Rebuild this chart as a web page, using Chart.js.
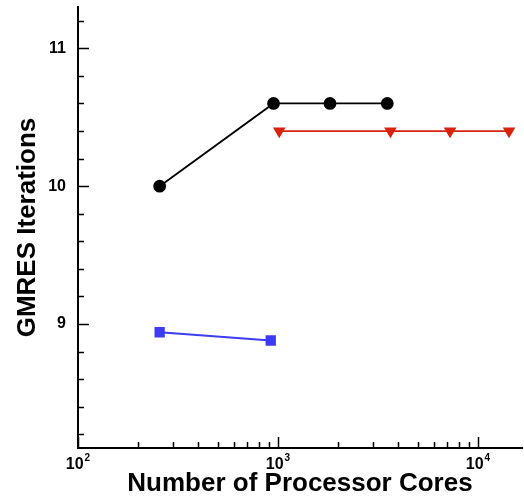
<!DOCTYPE html>
<html>
<head>
<meta charset="utf-8">
<script src="https://cdn.jsdelivr.net/npm/chart.js@4/dist/chart.umd.min.js"></script>
<style>
  html, body { margin: 0; padding: 0; background: #fff; }
  #wrap { width: 524px; height: 498px; }
</style>
</head>
<body>
<div id="wrap"><canvas id="gmres"></canvas></div>
<script>
// values
var blackCores = [256, 950, 1820, 3520];
var blackIters = [10.0, 10.6, 10.6, 10.6];
var redCores = [1015, 3650, 7250, 14300];
var redIters = [10.4, 10.4, 10.4, 10.4];
var blueCores = [256, 920];
var blueIters = [8.94, 8.88];

// axis ticks
var xDecades = [100, 1000, 10000];
var xExponents = [2, 3, 4];
var yTickValues = [8.2, 8.4, 8.6, 8.8, 9, 9.2, 9.4, 9.6, 9.8, 10, 10.2, 10.4, 10.6, 10.8, 11, 11.2];
var yMajor = [9, 10, 11];

function pts(xs, ys) {
    var out = [];
    for (var i = 0; i < xs.length; i += 1) {
        out.push({x: xs[i], y: ys[i]});
    }
    return out;
}

function isMajorY(v) {
    for (var i = 0; i < yMajor.length; i += 1) {
        if (Math.abs(v - yMajor[i]) < 1e-6) return true;
    }
    return false;
}

// inward tick marks + 10^n labels like the original plot
var axisExtras = {
    id: "axisExtras",
    afterDraw: function (chart) {
        var ctx = chart.ctx;
        var xs = chart.scales.x;
        var ys = chart.scales.y;
        ctx.save();
        ctx.strokeStyle = "#000";
        ctx.lineWidth = 1.5;
        ctx.beginPath();
        for (var d = 0; d < xDecades.length; d += 1) {
            for (var k = 1; k <= 9; k += 1) {
                var v = k * xDecades[d];
                if (v < xs.min || v > xs.max) continue;
                var px = Math.round(xs.getPixelForValue(v)) + 0.5;
                var len = k === 1 ? 11 : 6;
                ctx.moveTo(px, ys.bottom);
                ctx.lineTo(px, ys.bottom - len);
            }
        }
        ys.ticks.forEach(function (t) {
            var py = Math.round(ys.getPixelForValue(t.value)) + 0.5;
            var len = isMajorY(t.value) ? 11 : 6;
            ctx.moveTo(xs.left, py);
            ctx.lineTo(xs.left + len, py);
        });
        ctx.stroke();

        ctx.fillStyle = "#000";
        ctx.textBaseline = "alphabetic";
        ctx.textAlign = "left";
        for (var i = 0; i < xDecades.length; i += 1) {
            var cx = xs.getPixelForValue(xDecades[i]);
            ctx.font = "bold 16px 'Liberation Sans'";
            var wBase = ctx.measureText("10").width;
            ctx.font = "bold 10px 'Liberation Sans'";
            var wSup = ctx.measureText(String(xExponents[i])).width;
            var x0 = cx - (wBase + wSup + 1) / 2;
            ctx.font = "bold 16px 'Liberation Sans'";
            ctx.fillText("10", x0, ys.bottom + 21);
            ctx.font = "bold 10px 'Liberation Sans'";
            ctx.fillText(String(xExponents[i]), x0 + wBase + 1, ys.bottom + 13);
        }
        ctx.restore();
    }
};

var ctx = document.getElementById("gmres");

var myChart = new Chart(ctx, {
    type: "line",
    data: {
        datasets: [
            {
                label: "black",
                data: pts(blackCores, blackIters),
                borderColor: "#000000",
                backgroundColor: "#000000",
                borderWidth: 1.8,
                pointStyle: "circle",
                pointRadius: 5.5
            },
            {
                label: "red",
                data: pts(redCores, redIters),
                borderColor: "#d8230f",
                backgroundColor: "#d8230f",
                borderWidth: 1.8,
                pointStyle: "triangle",
                rotation: 180,
                pointRadius: 5.5
            },
            {
                label: "blue",
                data: pts(blueCores, blueIters),
                borderColor: "#3c3cf5",
                backgroundColor: "#3c3cf5",
                borderWidth: 1.8,
                pointStyle: "rect",
                pointRadius: 6
            }
        ]
    },
    options: {
        responsive: true,
        maintainAspectRatio: false,
        animation: false,
        layout: {autoPadding: false, padding: {top: 7, right: 2, left: 0, bottom: 0}},
        plugins: {legend: {display: false}, tooltip: {enabled: false}},
        elements: {line: {tension: 0}, point: {borderWidth: 0}},
        scales: {
            x: {
                type: "logarithmic",
                min: 100,
                max: 16600,
                grid: {display: false, drawTicks: false},
                border: {display: true, color: "#000", width: 2},
                ticks: {display: false},
                title: {
                    display: true,
                    text: "Number of Processor Cores",
                    color: "#000",
                    padding: {top: 0, bottom: 0},
                    font: {family: "Liberation Sans", size: 26, weight: "bold", lineHeight: 1.1}
                },
                afterFit: function (scale) {
                    scale.height = 50;
                    scale.paddingLeft = 0;
                    scale.paddingRight = 0;
                }
            },
            y: {
                min: 8.1,
                max: 11.3,
                grid: {display: false, drawTicks: false},
                border: {display: true, color: "#000", width: 2},
                afterBuildTicks: function (scale) {
                    scale.ticks = yTickValues.map(function (v) { return {value: v}; });
                },
                ticks: {
                    padding: 12,
                    color: "#000",
                    font: {family: "Liberation Sans", size: 16, weight: "bold"},
                    callback: function (value) {
                        return isMajorY(value) ? String(Math.round(value)) : "";
                    }
                },
                title: {
                    display: true,
                    text: "GMRES Iterations",
                    color: "#000",
                    padding: {top: 12, bottom: 0},
                    font: {family: "Liberation Sans", size: 26, weight: "bold"}
                },
                afterFit: function (scale) {
                    scale.width = 78;
                    scale.paddingTop = 0;
                    scale.paddingBottom = 0;
                }
            }
        }
    },
    plugins: [axisExtras]
});
</script>
</body>
</html>
